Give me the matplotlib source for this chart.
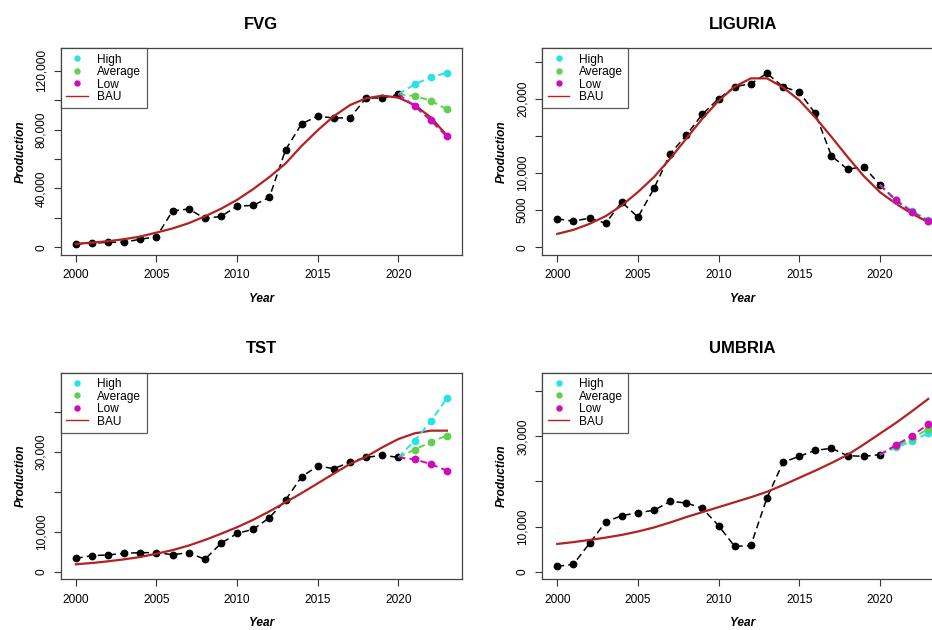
import matplotlib
matplotlib.use("Agg")
import matplotlib.pyplot as plt
from matplotlib.lines import Line2D

plt.rcParams['font.family'] = ['Liberation Sans', 'DejaVu Sans']
plt.rcParams['lines.scale_dashes'] = False

# ---------------- data ----------------
years_obs = list(range(2000, 2021))
years_fc = [2021, 2022, 2023]
years_bau = list(range(2000, 2024))

regions = ["FVG", "LIGURIA", "TST", "UMBRIA"]

fvg_obs = [2300, 2700, 3400, 3400, 5500, 7100, 24800, 26000, 19600, 21000, 28000,
           28500, 34000, 66300, 84000, 89300, 87900, 88200, 101600, 101600, 104100]
fvg_high = [110900, 115700, 118700]
fvg_avg = [103000, 99800, 93800]
fvg_low = [96100, 86300, 75400]
fvg_bau = [2300, 3200, 4100, 5500, 7300, 10000, 12800, 16400, 21000, 26200, 32300,
           39600, 47800, 57000, 69000, 79700, 89300, 96800, 101400, 103200, 101800,
           96800, 88400, 76100]

lig_obs = [3830, 3510, 3920, 3240, 6080, 4050, 7930, 12570, 15090, 17930, 20000,
           21620, 22030, 23420, 21620, 20900, 18020, 12300, 10500, 10860, 8400]
lig_high = [6380, 4900, 3650]
lig_avg = [6340, 4810, 3580]
lig_low = [6310, 4730, 3510]
lig_bau = [1800, 2340, 3150, 4190, 5630, 7430, 9460, 11940, 14640, 17340, 19730,
           21620, 22750, 22750, 21530, 19820, 17480, 14860, 12160, 9590, 7430,
           5860, 4500, 3380]

tst_obs = [3340, 4010, 4180, 4600, 4760, 4760, 4260, 4760, 3090, 7100, 9610,
           10610, 13530, 17960, 23810, 26480, 25810, 27490, 28650, 29160, 28650]
tst_high = [32830, 37680, 43440]
tst_avg = [30580, 32500, 34090]
tst_low = [28150, 26980, 25310]
tst_bau = [1840, 2170, 2590, 3090, 3680, 4500, 5400, 6550, 7940, 9500, 11150,
           13000, 15100, 17380, 19700, 22140, 24600, 26990, 28820, 31160, 33250,
           34670, 35340, 35340]

umb_obs = [1180, 1620, 6280, 11020, 12420, 13080, 13600, 15590, 15230, 14040, 10200,
           5600, 5800, 16350, 24240, 25570, 26900, 27340, 25720, 25570, 25940]
umb_high = [27560, 28890, 30750]
umb_avg = [27850, 29550, 31640]
umb_low = [28090, 30150, 32660]
umb_bau = [6140, 6550, 7030, 7550, 8150, 8900, 9800, 10900, 12100, 13200, 14300,
           15400, 16500, 17700, 19200, 20800, 22400, 24100, 25900, 28200, 30600,
           33000, 35600, 38300]

xticks = [2000, 2005, 2010, 2015, 2020]
xticklabels = ["2000", "2005", "2010", "2015", "2020"]

fvg_yticks = [0, 20000, 40000, 60000, 80000, 100000, 120000]
fvg_ylabels = ["0", "", "40,000", "", "80,000", "", "120,000"]
lig_yticks = [0, 5000, 10000, 15000, 20000, 25000]
lig_ylabels = ["0", "5000", "10,000", "", "20,000", ""]
tst_yticks = [0, 10000, 20000, 30000, 40000]
tst_ylabels = ["0", "10,000", "", "30,000", ""]
umb_yticks = [0, 10000, 20000, 30000, 40000]
umb_ylabels = ["0", "10,000", "", "30,000", ""]

# y-range maxima (R style: 4% extension added below)
fvg_ymax = 130200
lig_ymax = 25770
tst_ymax = 47950
umb_ymax = 42420

legend_labels = ["High", "Average", "Low", "BAU"]

# ---------------- style ----------------
c_high = "#28E2E5"
c_avg = "#61D04F"
c_low = "#CD0BBC"
c_bau = "#B22222"
FS = 8.6

panels = [
    (fvg_obs, fvg_high, fvg_avg, fvg_low, fvg_bau, fvg_yticks, fvg_ylabels, fvg_ymax),
    (lig_obs, lig_high, lig_avg, lig_low, lig_bau, lig_yticks, lig_ylabels, lig_ymax),
    (tst_obs, tst_high, tst_avg, tst_low, tst_bau, tst_yticks, tst_ylabels, tst_ymax),
    (umb_obs, umb_high, umb_avg, umb_low, umb_bau, umb_yticks, umb_ylabels, umb_ymax),
]

W, H = 932, 630
fig = plt.figure(figsize=(W / 100, H / 100), dpi=100)

lefts = [61.0, 542.4]
tops = [48.3, 372.7]
aw, ah = 400.7, 206.6

for i, (name, p) in enumerate(zip(regions, panels)):
    obs, hi, av, lo, bau, yt, yl, ymax = p
    r, c = divmod(i, 2)
    left = lefts[c]
    top = tops[r]
    ax = fig.add_axes([left / W, 1 - (top + ah) / H, aw / W, ah / H])

    ax.plot(years_obs, obs, color="black", lw=1.1, dashes=(5, 3),
            marker="o", markersize=4.6, zorder=2)
    ax.plot(years_bau, bau, color=c_bau, lw=1.6, zorder=3)
    for vals, col in [(hi, c_high), (av, c_avg), (lo, c_low)]:
        xs = [years_obs[-1]] + years_fc
        ys = [obs[-1]] + vals
        ax.plot(xs, ys, color=col, lw=1.4, dashes=(5, 3), marker="o",
                markersize=4.6, markevery=[1, 2, 3], zorder=4)

    xr = years_bau[-1] - years_bau[0]
    ax.set_xlim(years_bau[0] - 0.04 * xr, years_bau[-1] + 0.04 * xr)
    ax.set_ylim(-0.04 * ymax, ymax * 1.04)
    ax.set_xticks(xticks)
    ax.set_xticklabels(xticklabels, fontsize=FS)
    ax.set_yticks(yt)
    ax.set_yticklabels(yl, fontsize=FS, rotation=90, va="center")
    ax.tick_params(axis="both", length=5, width=0.8, color="#333333")
    ax.tick_params(axis="x", pad=5.3)
    ax.tick_params(axis="y", pad=4.8)
    for s in ax.spines.values():
        s.set_linewidth(0.9)
        s.set_color("#444444")

    ax.set_title(name, fontsize=12, fontweight="bold", pad=14)
    ax.set_xlabel("Year", fontsize=FS, fontweight="bold", style="italic", labelpad=8.5)
    ax.set_ylabel("Production", fontsize=FS, fontweight="bold", style="italic", labelpad=6.5)

    handles = [
        Line2D([], [], linestyle="none", marker="o", markersize=3.6, color=c_high),
        Line2D([], [], linestyle="none", marker="o", markersize=3.6, color=c_avg),
        Line2D([], [], linestyle="none", marker="o", markersize=3.6, color=c_low),
        Line2D([], [], color=c_bau, lw=1.0),
    ]
    leg = ax.legend(handles, legend_labels, loc="upper left", fontsize=FS,
                    frameon=True, fancybox=False, borderaxespad=0, borderpad=0.45,
                    labelspacing=0.04, handlelength=1.8, handletextpad=0.8)
    leg.get_frame().set_edgecolor("#333333")
    leg.get_frame().set_linewidth(0.9)

fig.savefig("out.png", dpi=100)
